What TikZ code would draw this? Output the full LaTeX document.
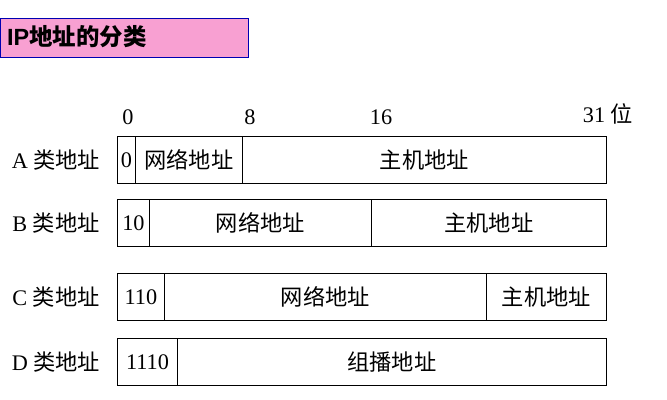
\documentclass[tikz,border=0pt]{standalone}
\usepackage{fontspec}
\setmainfont{Liberation Serif}
\newfontfamily\cjk{Noto Sans CJK SC}
\newfontfamily\titlefont{Liberation Sans}
\definecolor{titlepink}{RGB}{248,160,210}
\begin{document}
\begin{tikzpicture}[x=0.03cm, y=-0.03cm,
    field/.style={draw, thick, inner sep=0pt, anchor=west, minimum height=1.41cm, font=\fontsize{19}{22}\selectfont},
    rowlabel/.style={font=\fontsize{19}{22}\selectfont},
    bitmark/.style={font=\fontsize{19}{22}\selectfont},
]
    \useasboundingbox (0,0) rectangle (667,400);
    % Title
    \node[draw=blue!70!black, fill=titlepink, minimum width=7.44cm, minimum height=1.17cm,
          anchor=north west, inner sep=0pt] (title) at (0,18) {};
    \node[anchor=west, font=\titlefont\bfseries\fontsize{20}{24}\selectfont] (titletext) at (3,37) {IP{\cjk 地址的分类}};

    % Bit positions
    \node[bitmark] (b0) at (128,117) {0};
    \node[bitmark] (b8) at (250,117) {8};
    \node[bitmark] (b16) at (381,117) {16};
    \node[bitmark] (b31) at (608,114) {31 {\cjk 位}};

    % Class A
    \node[rowlabel] (la) at (56,160) {A {\cjk 类地址}};
    \node[field, minimum width=0.54cm] (a1) at (117,160) {0};
    \node[field, minimum width=3.21cm] (a2) at (135,160) {\cjk 网络地址};
    \node[field, minimum width=10.92cm] (a3) at (242,160) {\cjk 主机地址};

    % Class B
    \node[rowlabel] (lb) at (56,223) {B {\cjk 类地址}};
    \node[field, minimum width=0.96cm] (b1) at (117,223) {10};
    \node[field, minimum width=6.66cm] (b2) at (149,223) {\cjk 网络地址};
    \node[field, minimum width=7.05cm] (b3) at (371,223) {\cjk 主机地址};

    % Class C
    \node[rowlabel] (lc) at (56,297) {C {\cjk 类地址}};
    \node[field, minimum width=1.41cm] (c1) at (117,297) {110};
    \node[field, minimum width=9.66cm] (c2) at (164,297) {\cjk 网络地址};
    \node[field, minimum width=3.6cm] (c3) at (486,297) {\cjk 主机地址};

    % Class D
    \node[rowlabel] (ld) at (56,362) {D {\cjk 类地址}};
    \node[field, minimum width=1.8cm] (d1) at (117,362) {1110};
    \node[field, minimum width=12.87cm] (d2) at (177,362) {\cjk 组播地址};
\end{tikzpicture}
\end{document}
